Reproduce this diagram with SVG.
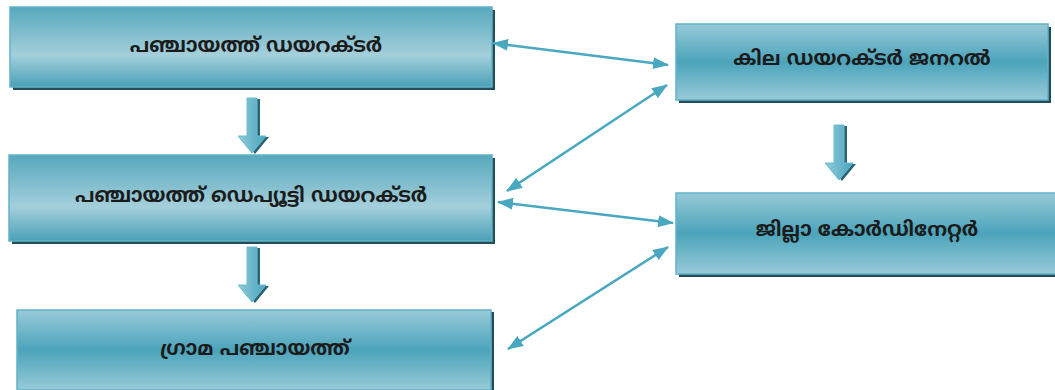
<svg xmlns="http://www.w3.org/2000/svg" width="1055" height="390" viewBox="0 0 1055 390">
  <defs>
    <!-- dark edges, light band below middle -->
    <linearGradient id="fillA" x1="0" y1="0" x2="0" y2="1">
      <stop offset="0" stop-color="#56a8bd"/>
      <stop offset="0.6" stop-color="#a4cfdb"/>
      <stop offset="1" stop-color="#4aa1b8"/>
    </linearGradient>
    <!-- light edges, dark band in the middle -->
    <linearGradient id="fillB" x1="0" y1="0" x2="0" y2="1">
      <stop offset="0" stop-color="#98cad8"/>
      <stop offset="0.5" stop-color="#4ba4bb"/>
      <stop offset="1" stop-color="#98cad8"/>
    </linearGradient>
    <linearGradient id="arrowFill" x1="0" y1="0" x2="1" y2="0">
      <stop offset="0" stop-color="#8fcbdb"/>
      <stop offset="1" stop-color="#4aa4bc"/>
    </linearGradient>
    <marker id="head" viewBox="0 0 16 12" refX="15" refY="6" markerWidth="16" markerHeight="12" markerUnits="userSpaceOnUse" orient="auto-start-reverse">
      <path d="M0,0 L16,6 L0,12 Z" fill="#4aa7c0"/>
    </marker>
    <path id="blockArrow" d="M-5,0 H5 V38 H14 L0,55 L-14,38 H-5 Z"/>
  </defs>
  <style>
    .shadow { fill: #214e5a; }
    .boxA { fill: url(#fillA); stroke: #62b2c6; stroke-width: 1.5; }
    .boxB { fill: url(#fillB); stroke: #62b2c6; stroke-width: 1.5; }
    .label { font-family: "Noto Sans Malayalam", "Noto Sans", sans-serif; font-size: 20px; font-weight: bold; fill: #1b1b1b; text-anchor: middle; dominant-baseline: central; }
    .link { stroke: #4aa7c0; stroke-width: 2.5; fill: none; marker-start: url(#head); marker-end: url(#head); }
    .arrowShadow { fill: #2a6472; }
    .arrowBody { fill: url(#arrowFill); stroke: #6bbdd2; stroke-width: 1; }
  </style>

  <g id="panchayat-director">
    <rect class="shadow" x="13" y="10" width="482" height="80"/>
    <rect class="boxA" x="10" y="7" width="482" height="80"/>
    <text class="label" x="256" y="47">പഞ്ചായത്ത് ഡയറക്ടർ</text>
  </g>

  <g id="deputy-director">
    <rect class="shadow" x="12" y="158" width="483" height="86"/>
    <rect class="boxA" x="9" y="155" width="483" height="86"/>
    <text class="label" x="251" y="197">പഞ്ചായത്ത് ഡെപ്യൂട്ടി ഡയറക്ടർ</text>
  </g>

  <g id="grama-panchayat">
    <rect class="shadow" x="20" y="312" width="474" height="80"/>
    <rect class="boxB" x="17" y="310" width="474" height="80"/>
    <text class="label" x="255" y="350">ഗ്രാമ പഞ്ചായത്ത്</text>
  </g>

  <g id="kila-director-general">
    <rect class="shadow" x="679" y="27" width="372" height="76"/>
    <rect class="boxB" x="676" y="24" width="372" height="76"/>
    <text class="label" x="862" y="60">കില ഡയറക്ടർ ജനറൽ</text>
  </g>

  <g id="district-coordinator">
    <rect class="shadow" x="679" y="196" width="380" height="81"/>
    <rect class="boxB" x="676" y="193" width="380" height="81"/>
    <text class="label" x="867" y="231">ജില്ലാ കോർഡിനേറ്റർ</text>
  </g>

  <g id="connectors">
    <!-- hierarchy block arrows -->
    <g transform="translate(252,98)">
      <use href="#blockArrow" class="arrowShadow" x="3" y="1"/>
      <use href="#blockArrow" class="arrowBody"/>
    </g>
    <g transform="translate(252,247)">
      <use href="#blockArrow" class="arrowShadow" x="3" y="1"/>
      <use href="#blockArrow" class="arrowBody"/>
    </g>
    <g transform="translate(839,125)">
      <use href="#blockArrow" class="arrowShadow" x="3" y="1"/>
      <use href="#blockArrow" class="arrowBody"/>
    </g>
    <!-- two-way links -->
    <line class="link" x1="493" y1="43" x2="668" y2="65"/>
    <line class="link" x1="507" y1="191" x2="667" y2="85"/>
    <line class="link" x1="498" y1="202" x2="673" y2="223"/>
    <line class="link" x1="508" y1="349" x2="668" y2="247"/>
  </g>
</svg>
